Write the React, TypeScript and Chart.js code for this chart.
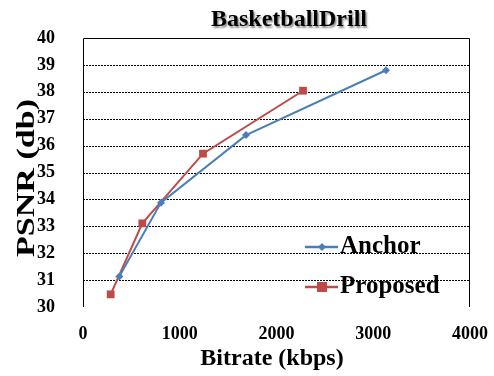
import React, { useEffect, useRef } from "react";
import { Chart, registerables } from "chart.js";

Chart.register(...registerables);

const chartTitle = "BasketballDrill";
const xAxisTitle = "Bitrate (kbps)";
const yAxisTitle = "PSNR (db)";
const seriesNames = ["Anchor", "Proposed"];
const anchorBitrate = [375, 806, 1685, 3132];
const anchorPsnr = [31.13, 33.88, 36.39, 38.8];
const proposedBitrate = [286, 613, 1240, 2274];
const proposedPsnr = [30.47, 33.11, 35.7, 38.04];
const xTicks = [0, 1000, 2000, 3000, 4000];
const yTicks = [30, 31, 32, 33, 34, 35, 36, 37, 38, 39, 40];

const FONT = "'Liberation Serif', 'Times New Roman', serif";
const BLUE = "#4A7EBB";
const RED = "#BE4B48";

const decorPlugin = {
  id: "decor",
  beforeDatasetsDraw(chart: any) {
    const { ctx, chartArea: a, scales } = chart;
    const y = scales.y;
    ctx.save();
    ctx.strokeStyle = "#000";
    ctx.lineWidth = 1;
    ctx.setLineDash([2, 1]);
    yTicks.forEach((v) => {
      if (v === yTicks[0] || v === yTicks[yTicks.length - 1]) return;
      const py = Math.round(y.getPixelForValue(v)) + 0.5;
      ctx.beginPath();
      ctx.moveTo(a.left, py);
      ctx.lineTo(a.right, py);
      ctx.stroke();
    });
    ctx.setLineDash([]);
    const t = Math.round(a.top) + 0.5;
    const l = Math.round(a.left) + 0.5;
    const r = Math.round(a.right) - 0.5;
    const b = Math.round(a.bottom);
    ctx.beginPath();
    ctx.moveTo(l, b);
    ctx.lineTo(l, t);
    ctx.lineTo(r, t);
    ctx.lineTo(r, b);
    ctx.strokeStyle = "#000";
    ctx.stroke();
    ctx.restore();
  },
  afterDraw(chart: any) {
    const { ctx } = chart;
    ctx.save();
    // title with shadow
    ctx.font = `bold 24px ${FONT}`;
    ctx.textAlign = "center";
    ctx.textBaseline = "middle";
    ctx.shadowColor = "rgba(0,0,0,0.45)";
    ctx.shadowOffsetX = 1.5;
    ctx.shadowOffsetY = 1.5;
    ctx.shadowBlur = 2;
    ctx.fillStyle = "#000";
    ctx.fillText(chartTitle, 289, 20);
    ctx.shadowColor = "transparent";
    // x axis title
    ctx.font = `bold 24px ${FONT}`;
    ctx.fillText(xAxisTitle, 272, 359);
    // y axis title (stretched along its length like the reference)
    ctx.save();
    ctx.font = `bold 25px ${FONT}`;
    const w = ctx.measureText(yAxisTitle).width;
    ctx.translate(28, 178);
    ctx.rotate(-Math.PI / 2);
    ctx.scale(158 / w, 1);
    ctx.fillText(yAxisTitle, 0, 0);
    ctx.restore();
    // legend
    const rows = [247, 287];
    chart.data.datasets.forEach((ds: any, i: number) => {
      const cy = rows[i];
      ctx.strokeStyle = ds.borderColor;
      ctx.lineWidth = 2.5;
      ctx.beginPath();
      ctx.moveTo(305, cy);
      ctx.lineTo(338, cy);
      ctx.stroke();
      ctx.fillStyle = ds.borderColor;
      if (i === 0) {
        ctx.beginPath();
        ctx.moveTo(322, cy - 4);
        ctx.lineTo(326, cy);
        ctx.lineTo(322, cy + 4);
        ctx.lineTo(318, cy);
        ctx.closePath();
        ctx.fill();
      } else {
        ctx.fillRect(317, cy - 5, 10, 10);
      }
      ctx.fillStyle = "#000";
      ctx.font = `bold 25px ${FONT}`;
      ctx.textAlign = "left";
      ctx.textBaseline = "middle";
      ctx.fillText(ds.label, 340, cy);
    });
    ctx.restore();
  },
};

export default function App() {
  const ref = useRef<HTMLCanvasElement>(null);
  useEffect(() => {
    document.body.style.margin = "0";
    const chart = new Chart(ref.current!, {
      type: "line",
      data: {
        datasets: [
          {
            label: seriesNames[0],
            data: anchorBitrate.map((x, i) => ({ x, y: anchorPsnr[i] })),
            borderColor: BLUE,
            backgroundColor: BLUE,
            borderWidth: 2,
            pointStyle: "rectRot",
            pointRadius: 4,
            pointBorderWidth: 0,
            tension: 0,
          },
          {
            label: seriesNames[1],
            data: proposedBitrate.map((x, i) => ({ x, y: proposedPsnr[i] })),
            borderColor: RED,
            backgroundColor: RED,
            borderWidth: 2,
            pointStyle: "rect",
            pointRadius: 5.5,
            pointBorderWidth: 0,
            tension: 0,
          },
        ],
      },
      options: {
        animation: false,
        responsive: false,
        layout: { padding: { left: 0, right: 24, top: 38, bottom: 0 } },
        plugins: { legend: { display: false }, title: { display: false }, tooltip: { enabled: false } },
        scales: {
          x: {
            type: "linear",
            min: 0,
            max: 4000,
            afterBuildTicks: (s: any) => {
              s.ticks = xTicks.map((v) => ({ value: v }));
            },
            afterFit: (s: any) => {
              s.height = 69;
              s.paddingRight = 0;
              s.paddingLeft = 0;
            },
            grid: { display: false },
            border: { display: false },
            ticks: {
              color: "#000",
              font: { family: FONT, size: 18, weight: "bold" },
              padding: 9,
              maxRotation: 0,
              callback: (v: any) => String(v),
            },
          },
          y: {
            type: "linear",
            min: 30,
            max: 40,
            afterBuildTicks: (s: any) => {
              s.ticks = yTicks.map((v) => ({ value: v }));
            },
            afterFit: (s: any) => {
              s.width = 83;
              s.paddingTop = 0;
              s.paddingBottom = 0;
            },
            grid: { display: false },
            border: { display: false },
            ticks: {
              color: "#000",
              font: { family: FONT, size: 18, weight: "bold" },
              padding: 20,
              callback: (v: any) => String(v),
            },
          },
        },
      },
      plugins: [decorPlugin],
    });
    return () => chart.destroy();
  }, []);
  return <canvas ref={ref} width={494} height={376} style={{ display: "block" }} />;
}
